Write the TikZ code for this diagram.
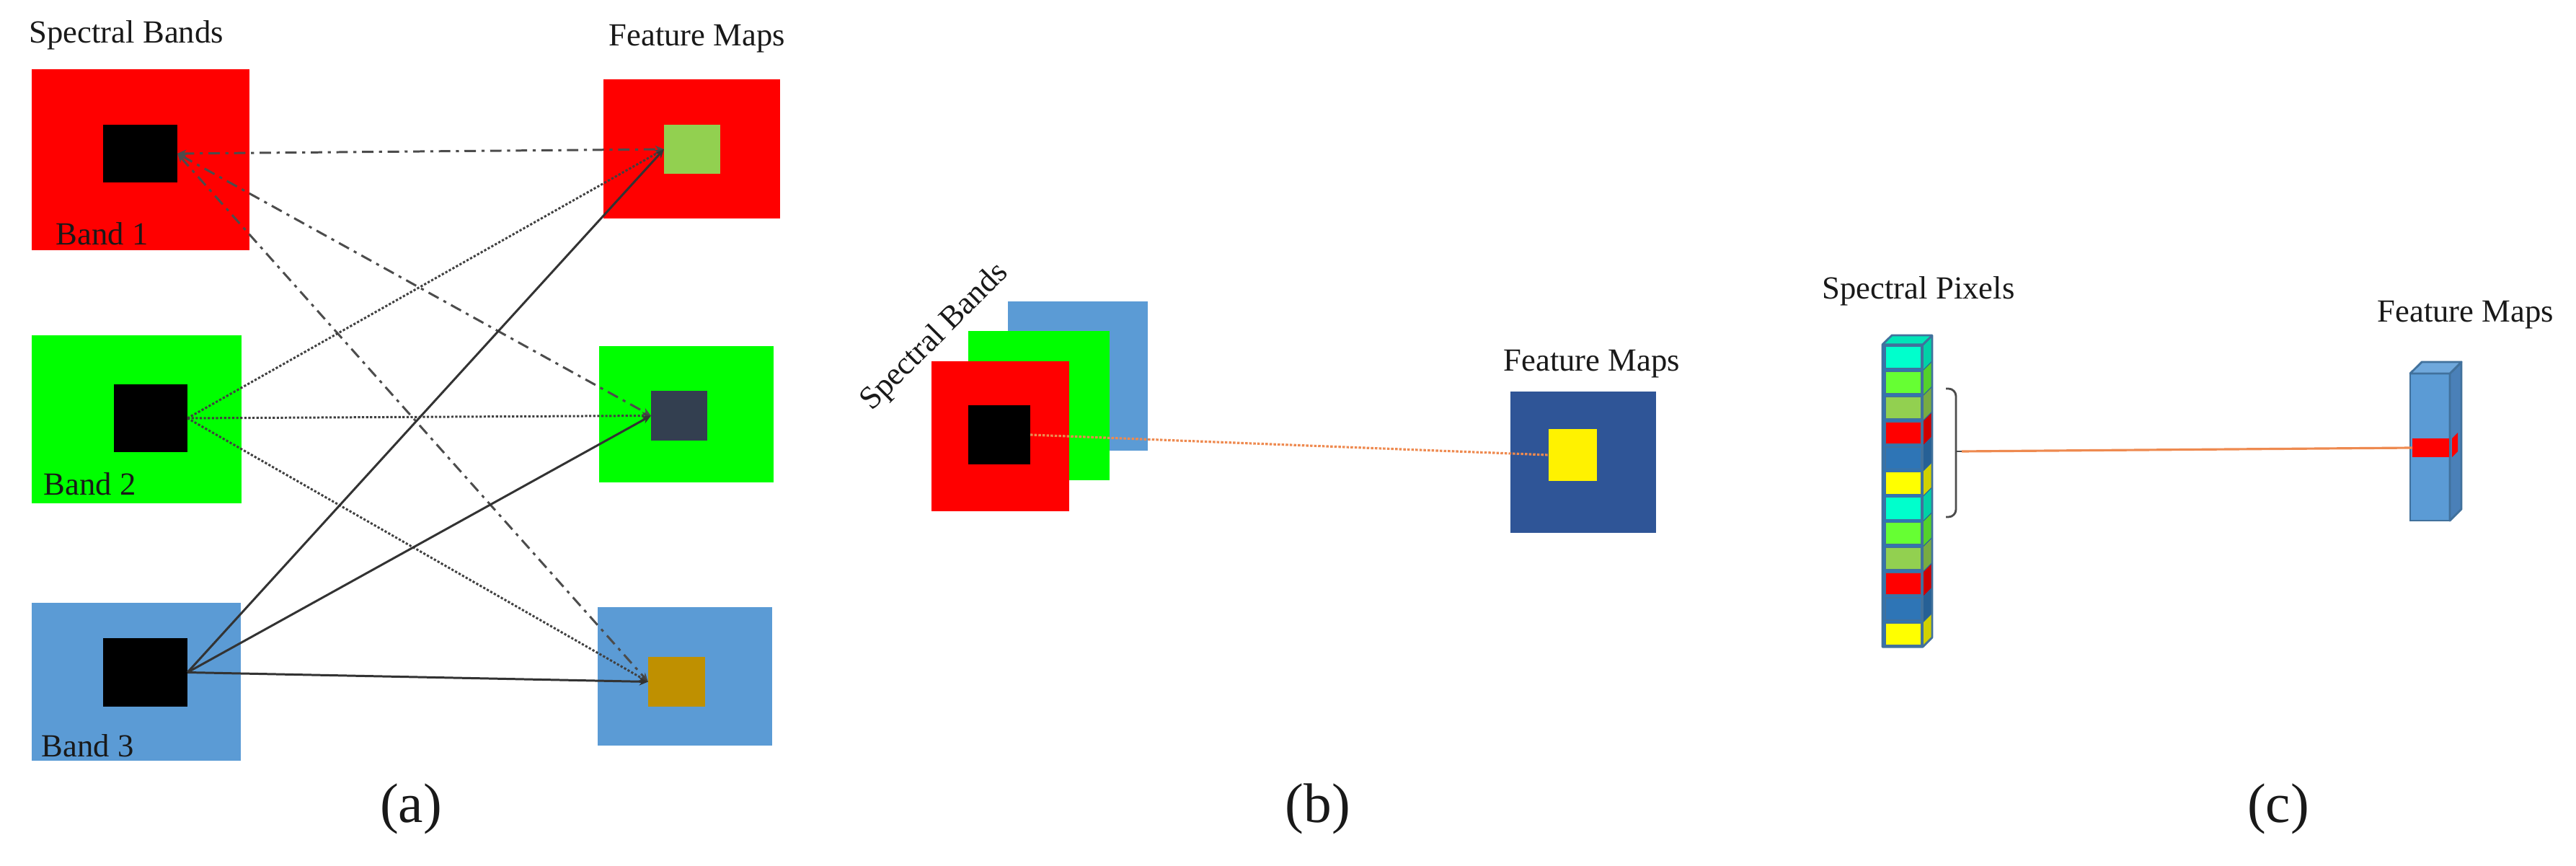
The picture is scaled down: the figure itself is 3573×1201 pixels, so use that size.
\documentclass[tikz,border=0pt]{standalone}
\usepackage{fontspec}
\setmainfont{Liberation Serif}
\usetikzlibrary{arrows.meta}
\definecolor{bandblue}{HTML}{5B9BD5}
\definecolor{ltgreen}{HTML}{92D050}
\definecolor{slate}{HTML}{333F50}
\definecolor{gold}{HTML}{BF9000}
\definecolor{navy}{HTML}{2F5597}
\definecolor{orangec}{HTML}{EE8A50}
\definecolor{cy}{HTML}{00FFCC}
\definecolor{gr}{HTML}{66FF33}
\definecolor{ol}{HTML}{92D050}
\definecolor{rd}{HTML}{FF0000}
\definecolor{bl}{HTML}{2E75B6}
\definecolor{ye}{HTML}{FFFF00}
\definecolor{outl}{HTML}{41719C}
\definecolor{fmfront}{HTML}{5B9BD5}
\definecolor{fmside}{HTML}{4A80B8}
\definecolor{fmtop}{HTML}{6FA8DC}
\begin{document}
\begin{tikzpicture}[x=0.01cm,y=-0.01cm,
  box/.style={rectangle,draw=none,inner sep=0pt,outer sep=0pt},
  lbl/.style={font=\fontsize{12.7pt}{15pt}\selectfont,inner sep=0pt,text=black!90},
  captext/.style={font=\fontsize{22pt}{26pt}\selectfont,inner sep=0pt,text=black!90},
  tipend/.style={-{Stealth[length=3.5pt,width=3pt]}},
  tipboth/.style={{Stealth[length=3.5pt,width=3pt]}-{Stealth[length=3.5pt,width=3pt]}},
  dashdotln/.style={draw=black!70,line width=0.85pt,dash pattern=on 4.5pt off 2.2pt on 1.2pt off 2.2pt},
  dotln/.style={draw=black!75,line width=0.85pt,dash pattern=on 0.9pt off 0.7pt},
  solidln/.style={draw=black!80,line width=0.85pt},
  orangedot/.style={draw=orangec,line width=0.9pt,dash pattern=on 1pt off 0.6pt},
  orangesolid/.style={draw=orangec,line width=0.9pt},
  bracket/.style={draw=black!70,line width=0.8pt}
]
\useasboundingbox (0,0) rectangle (3573,1201);

% ---------- panel (a) ----------
\node[lbl,anchor=base west] (ta1) at (40,60) {Spectral Bands};
\node[lbl,anchor=base west] (ta2) at (844,64) {Feature Maps};

\node[box,fill=red,minimum width=3.02cm,minimum height=2.51cm] (b1) at (195,221.5) {};
\node[box,fill=black,minimum width=1.03cm,minimum height=0.80cm] (b1k) at (194.5,213) {};
\node[box,fill=green,minimum width=2.91cm,minimum height=2.33cm] (b2) at (189.5,581.5) {};
\node[box,fill=black,minimum width=1.02cm,minimum height=0.94cm] (b2k) at (209,580) {};
\node[box,fill=bandblue,minimum width=2.90cm,minimum height=2.19cm] (b3) at (189,945.5) {};
\node[box,fill=black,minimum width=1.17cm,minimum height=0.95cm] (b3k) at (201.5,932.5) {};

\node[lbl,anchor=base west] (l1) at (77,340) {Band 1};
\node[lbl,anchor=base west] (l2) at (60,687) {Band 2};
\node[lbl,anchor=base west] (l3) at (57,1049) {Band 3};

\node[box,fill=red,minimum width=2.45cm,minimum height=1.93cm] (f1) at (959.5,206.5) {};
\node[box,fill=ltgreen,minimum width=0.78cm,minimum height=0.68cm] (f1s) at (960,207) {};
\node[box,fill=green,minimum width=2.42cm,minimum height=1.89cm] (f2) at (952,574.5) {};
\node[box,fill=slate,minimum width=0.78cm,minimum height=0.69cm] (f2s) at (942,576.5) {};
\node[box,fill=bandblue,minimum width=2.42cm,minimum height=1.92cm] (f3) at (950,938) {};
\node[box,fill=gold,minimum width=0.79cm,minimum height=0.69cm] (f3s) at (938.5,945.5) {};

\draw[dashdotln,tipboth] (b1k.east) -- (f1s.west);
\draw[dashdotln,tipboth] (b1k.east) -- (f2s.west);
\draw[dashdotln,tipboth] (b1k.east) -- (f3s.west);
\draw[dotln,tipend] (b2k.east) -- (f1s.west);
\draw[dotln,tipend] (b2k.east) -- (f2s.west);
\draw[dotln,tipend] (b2k.east) -- (f3s.west);
\draw[solidln,tipend] (b3k.east) -- (f1s.west);
\draw[solidln,tipend] (b3k.east) -- (f2s.west);
\draw[solidln,tipend] (b3k.east) -- (f3s.west);

\node[captext] (capa) at (570,1122) {(a)};

% ---------- panel (b) ----------
\node[box,fill=bandblue,minimum width=1.94cm,minimum height=2.07cm] (sb3) at (1495,521.5) {};
\node[box,fill=green,minimum width=1.96cm,minimum height=2.07cm] (sb2) at (1441,562.5) {};
\node[box,fill=red,minimum width=1.91cm,minimum height=2.08cm] (sb1) at (1387.5,605) {};
\node[box,fill=black,minimum width=0.86cm,minimum height=0.82cm] (sbk) at (1386,603) {};
\node[lbl,rotate=45] (tb1) at (1297,468) {Spectral Bands};

\node[lbl,anchor=base west] (tb2) at (2085,515) {Feature Maps};
\node[box,fill=navy,minimum width=2.02cm,minimum height=1.96cm] (fmb) at (2196,641) {};
\node[box,fill=yellow,minimum width=0.67cm,minimum height=0.72cm] (fmy) at (2181.5,631) {};

\draw[orangedot] (sbk.east) -- (fmy.west);

\node[captext] (capb) at (1828,1122) {(b)};

% ---------- panel (c) ----------
\node[lbl,anchor=base west] (tc1) at (2527,415) {Spectral Pixels};

\node[box,fill=bl,minimum width=0.56cm,minimum height=4.19cm] (pcol) at (2639,687.5) {};
\fill[bl!85!black] (2667,478) -- (2680,465) -- (2680,884) -- (2667,897) -- cycle;
\fill[cy!90!black] (2611,478) -- (2624,465) -- (2680,465) -- (2667,478) -- cycle;
\foreach \c [count=\i from 0] in {cy,gr,ol,rd,bl,ye,cy,gr,ol,rd,bl,ye} {
  \pgfmathsetmacro\yt{478+34.92*\i}
  \pgfmathsetmacro\yb{\yt+34.92}
  \fill[fill=\c!82!black] (2668,\yt+1) -- (2679,\yt-10) -- (2679,\yb-12) -- (2668,\yb-1) -- cycle;
  \filldraw[fill=\c,draw=outl,line width=0.5pt] (2615,\yt+2) rectangle (2665,\yb-2);
}
\draw[outl,line width=0.8pt,line join=round] (pcol.north west) -- (2624,465) -- (2680,465) -- (2680,884) -- (pcol.south east) -- (pcol.south west) -- cycle;
\draw[outl,line width=0.8pt] (pcol.north west) -- (pcol.north east) -- (2680,465);
\draw[outl,line width=0.8pt] (pcol.north east) -- (pcol.south east);

\coordinate (brtip) at (2721,626);
\draw[bracket,rounded corners=3pt] (2699,539) -- (2713,539) -- (2713,717) -- (2699,717);
\draw[bracket] (2713,626) -- (brtip);

\node[lbl,anchor=base west] (tc2) at (3297,447) {Feature Maps};
\node[box,fill=fmfront,minimum width=0.55cm,minimum height=2.04cm] (fc) at (3370.5,620) {};
\filldraw[fill=fmside,draw=outl,line width=0.8pt,line join=round] (fc.north east) -- (3414,502) -- (3414,706) -- (fc.south east) -- cycle;
\filldraw[fill=fmtop,draw=outl,line width=0.8pt,line join=round] (fc.north west) -- (3359,502) -- (3414,502) -- (fc.north east) -- cycle;
\draw[outl,line width=0.8pt] (fc.north west) rectangle (fc.south east);
\node[box,fill=red,minimum width=0.51cm,minimum height=0.26cm] (fr) at (3371.5,621) {};
\fill[red] (3401,608) -- (3409,600) -- (3409,626) -- (3401,634) -- cycle;

\draw[orangesolid] (brtip) -- (fr.west);

\node[captext] (capc) at (3160,1122) {(c)};
\end{tikzpicture}
\end{document}
